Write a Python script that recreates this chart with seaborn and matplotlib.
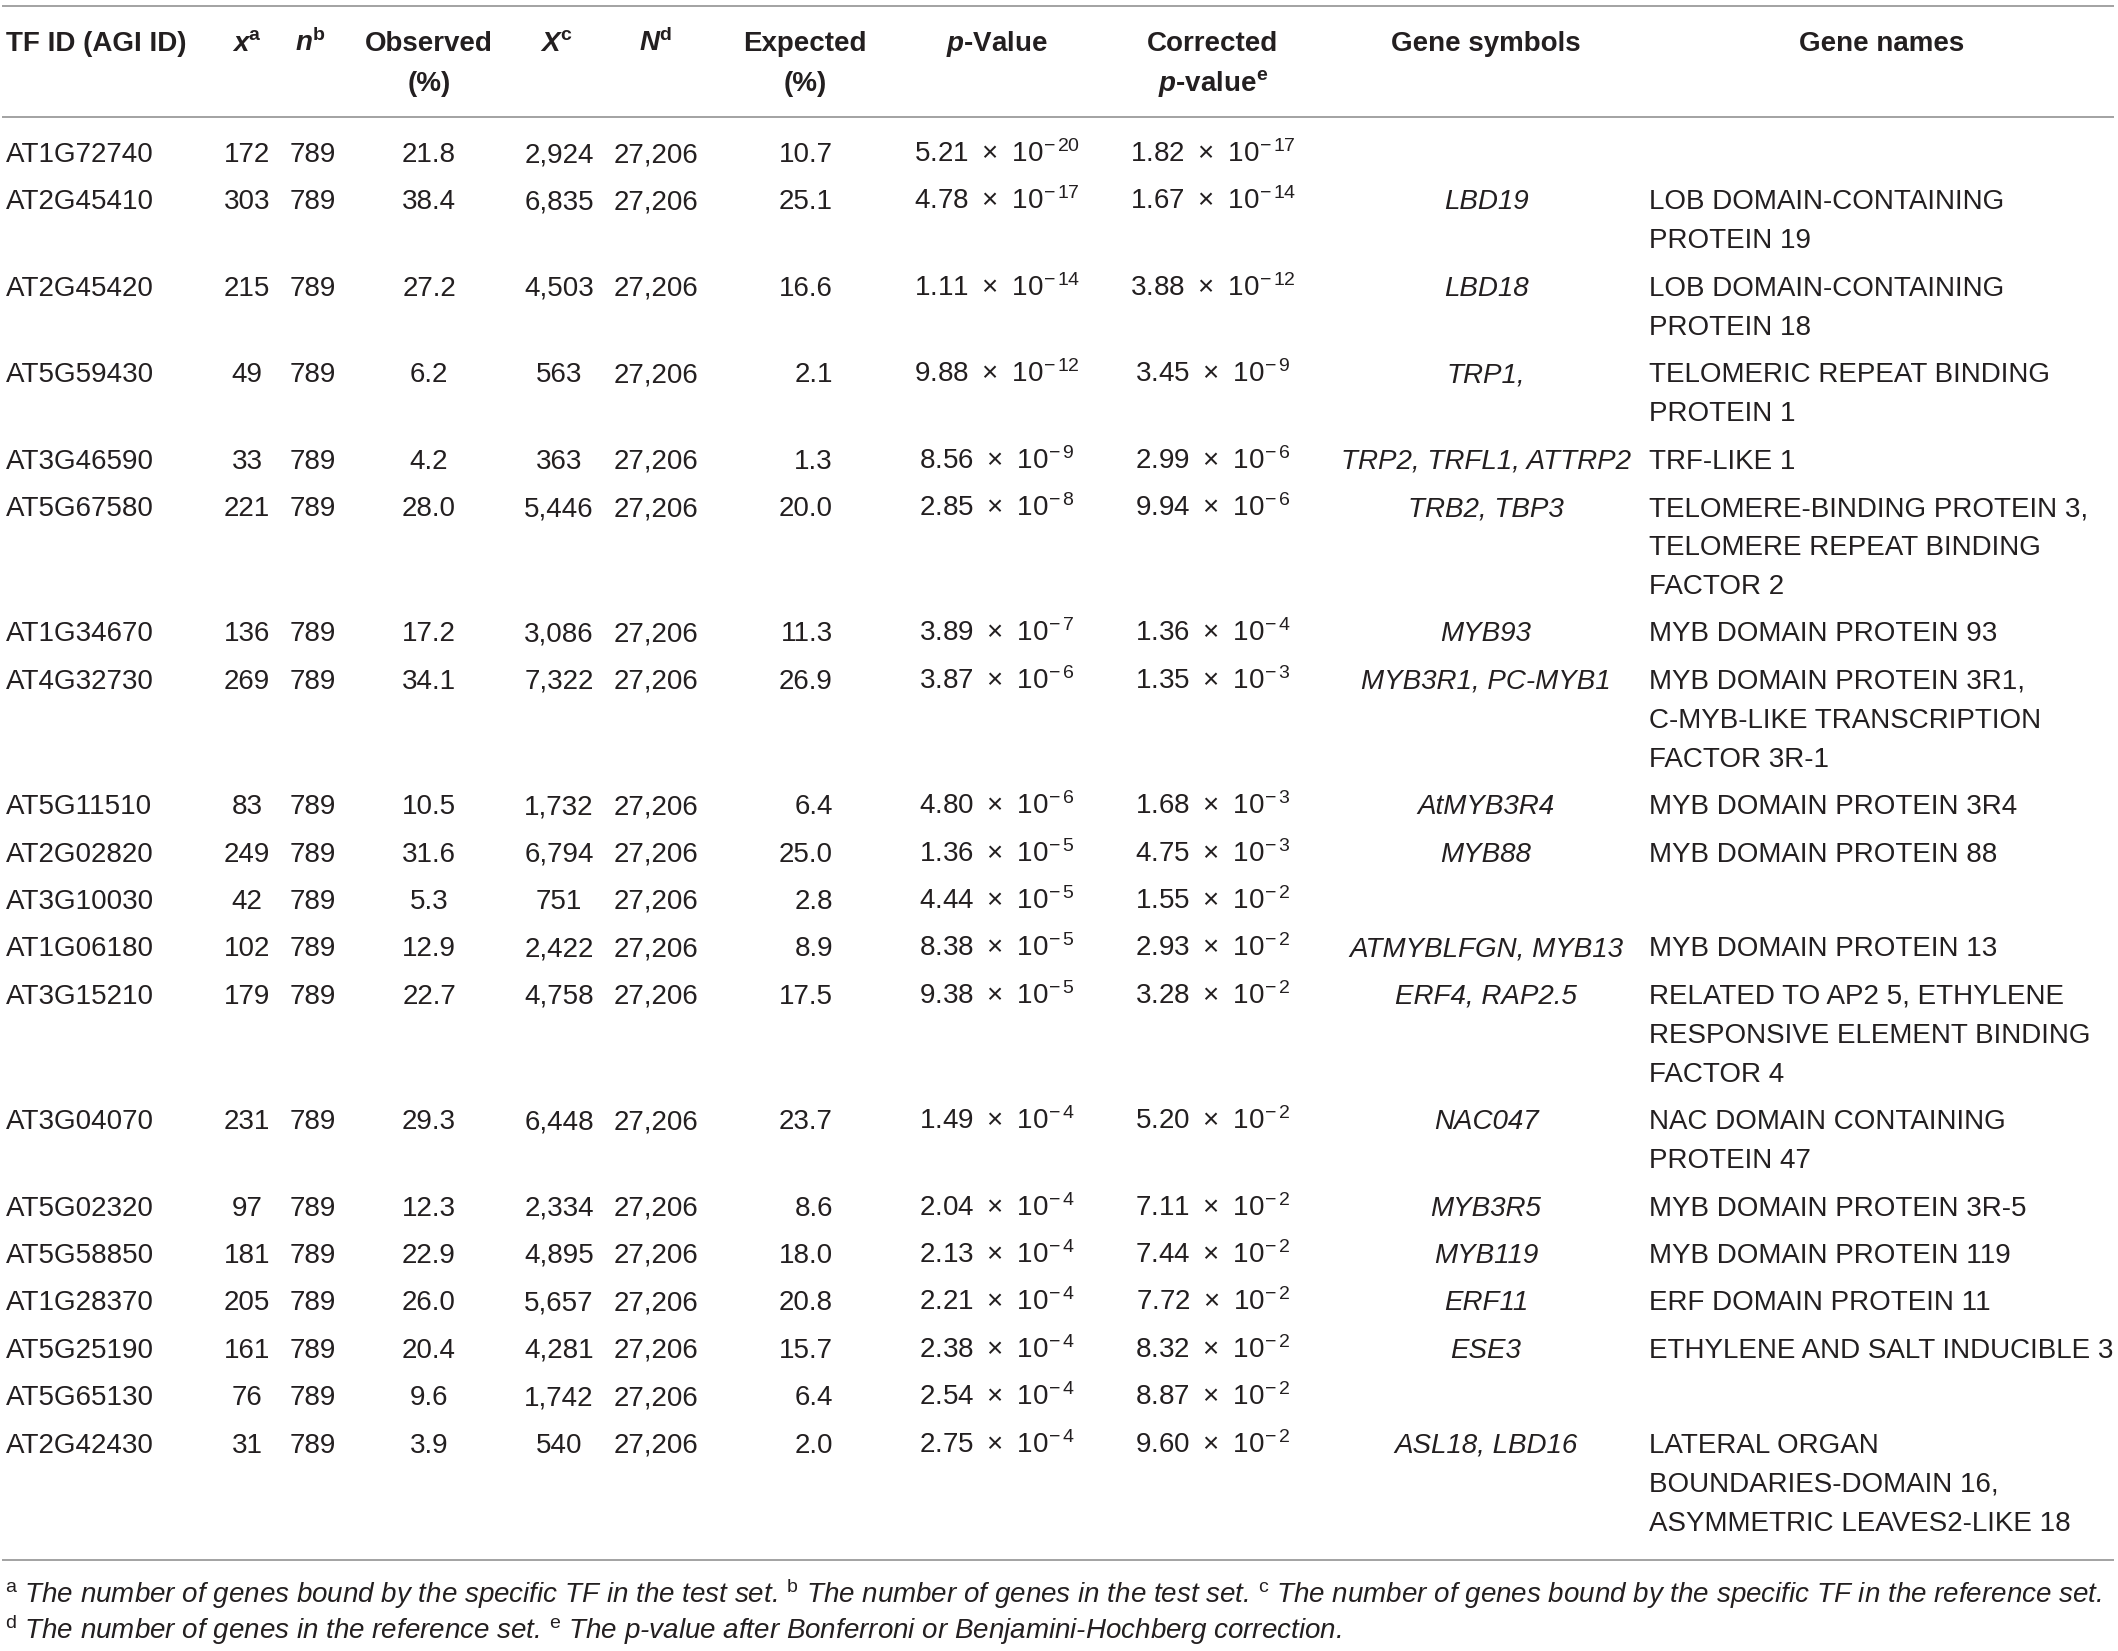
import seaborn as sns
import matplotlib.pyplot as plt

sns.set_theme(style="white")
plt.rcParams['font.family'] = ['Liberation Sans', 'DejaVu Sans']
plt.rcParams['mathtext.fontset'] = 'custom'
plt.rcParams['mathtext.rm'] = 'Liberation Sans'
plt.rcParams['mathtext.it'] = 'Liberation Sans:italic'
plt.rcParams['mathtext.bf'] = 'Liberation Sans:bold'
plt.rcParams['mathtext.bfit'] = 'Liberation Sans:italic:bold'

# table data
tf_ids = ["AT1G72740", "AT2G45410", "AT2G45420", "AT5G59430", "AT3G46590",
          "AT5G67580", "AT1G34670", "AT4G32730", "AT5G11510", "AT2G02820",
          "AT3G10030", "AT1G06180", "AT3G15210", "AT3G04070", "AT5G02320",
          "AT5G58850", "AT1G28370", "AT5G25190", "AT5G65130", "AT2G42430"]
x_bound = [172, 303, 215, 49, 33, 221, 136, 269, 83, 249, 42, 102, 179, 231,
           97, 181, 205, 161, 76, 31]
n_test = [789] * len(tf_ids)
observed = [21.8, 38.4, 27.2, 6.2, 4.2, 28.0, 17.2, 34.1, 10.5, 31.6, 5.3,
            12.9, 22.7, 29.3, 12.3, 22.9, 26.0, 20.4, 9.6, 3.9]
X_ref = [2924, 6835, 4503, 563, 363, 5446, 3086, 7322, 1732, 6794, 751, 2422,
         4758, 6448, 2334, 4895, 5657, 4281, 1742, 540]
N_ref = [27206] * len(tf_ids)
expected = [10.7, 25.1, 16.6, 2.1, 1.3, 20.0, 11.3, 26.9, 6.4, 25.0, 2.8, 8.9,
            17.5, 23.7, 8.6, 18.0, 20.8, 15.7, 6.4, 2.0]
p_mant = ["5.21", "4.78", "1.11", "9.88", "8.56", "2.85", "3.89", "3.87",
          "4.80", "1.36", "4.44", "8.38", "9.38", "1.49", "2.04", "2.13",
          "2.21", "2.38", "2.54", "2.75"]
p_exp = [20, 17, 14, 12, 9, 8, 7, 6, 6, 5, 5, 5, 5, 4, 4, 4, 4, 4, 4, 4]
cp_mant = ["1.82", "1.67", "3.88", "3.45", "2.99", "9.94", "1.36", "1.35",
           "1.68", "4.75", "1.55", "2.93", "3.28", "5.20", "7.11", "7.44",
           "7.72", "8.32", "8.87", "9.60"]
cp_exp = [17, 14, 12, 9, 6, 6, 4, 3, 3, 3, 2, 2, 2, 2, 2, 2, 2, 2, 2, 2]
gene_symbols = ["", "LBD19", "LBD18", "TRP1,", "TRP2, TRFL1, ATTRP2",
                "TRB2, TBP3", "MYB93", "MYB3R1, PC-MYB1", "AtMYB3R4", "MYB88",
                "", "ATMYBLFGN, MYB13", "ERF4, RAP2.5", "NAC047", "MYB3R5",
                "MYB119", "ERF11", "ESE3", "", "ASL18, LBD16"]
gene_names = [
    [],
    ["LOB DOMAIN-CONTAINING", "PROTEIN 19"],
    ["LOB DOMAIN-CONTAINING", "PROTEIN 18"],
    ["TELOMERIC REPEAT BINDING", "PROTEIN 1"],
    ["TRF-LIKE 1"],
    ["TELOMERE-BINDING PROTEIN 3,", "TELOMERE REPEAT BINDING", "FACTOR 2"],
    ["MYB DOMAIN PROTEIN 93"],
    ["MYB DOMAIN PROTEIN 3R1,", "C-MYB-LIKE TRANSCRIPTION", "FACTOR 3R-1"],
    ["MYB DOMAIN PROTEIN 3R4"],
    ["MYB DOMAIN PROTEIN 88"],
    [],
    ["MYB DOMAIN PROTEIN 13"],
    ["RELATED TO AP2 5, ETHYLENE", "RESPONSIVE ELEMENT BINDING", "FACTOR 4"],
    ["NAC DOMAIN CONTAINING", "PROTEIN 47"],
    ["MYB DOMAIN PROTEIN 3R-5"],
    ["MYB DOMAIN PROTEIN 119"],
    ["ERF DOMAIN PROTEIN 11"],
    ["ETHYLENE AND SALT INDUCIBLE 3"],
    [],
    ["LATERAL ORGAN", "BOUNDARIES-DOMAIN 16,", "ASYMMETRIC LEAVES2-LIKE 18"],
]
footnotes = [
    "$^{\\mathrm{a}}$ The number of genes bound by the specific TF in the test set. "
    "$^{\\mathrm{b}}$ The number of genes in the test set. "
    "$^{\\mathrm{c}}$ The number of genes bound by the specific TF in the reference set.",
    "$^{\\mathrm{d}}$ The number of genes in the reference set. "
    "$^{\\mathrm{e}}$ The p-value after Bonferroni or Benjamini-Hochberg correction.",
]

TXT = "#231f20"
RULE = "#9b9b9b"
FS = 20

fig = plt.figure(figsize=(21.18, 16.51), dpi=100)
ax = fig.add_axes([0, 0, 1, 1])
ax.set_xlim(0, 2118)
ax.set_ylim(1651, 0)
ax.axis("off")

# column anchors in px
COL_TF, COL_X, COL_N, COL_OBS = 6, 247, 313, 429
COL_XR, COL_NR, COL_EXP = 559, 656, 833
COL_P, COL_CP, COL_SYM, COL_NAMES = 997, 1213, 1486, 1649


def put(x, y, s, ha="center", **kw):
    ax.text(x, y, s, ha=ha, va="baseline", fontsize=FS, color=TXT, **kw)


def sci(m, e):
    return f"{m}\u2002×\u200210$^{{-\\,{e}}}$"


# header
h1, h2 = 51, 91
put(COL_TF, h1, "TF ID (AGI ID)", ha="left", fontweight="bold")
put(COL_X, h1, r"$\mathbfit{x}^{\mathbf{a}}$")
put(310, h1, r"$\mathbfit{n}^{\mathbf{b}}$")
put(COL_OBS, h1, "Observed", fontweight="bold")
put(COL_OBS, h2, "(%)", fontweight="bold")
put(556, h1, r"$\mathbfit{X}^{\mathbf{c}}$")
put(655, h1, r"$\mathbfit{N}^{\mathbf{d}}$")
put(805, h1, "Expected", fontweight="bold")
put(805, h2, "(%)", fontweight="bold")
put(COL_P, h1, r"$\mathbfit{p}$-Value", fontweight="bold")
put(COL_CP, h1, "Corrected", fontweight="bold")
put(COL_CP, h2, r"$\mathbfit{p}$-value$^{\mathbf{e}}$", fontweight="bold")
put(COL_SYM, h1, "Gene symbols", fontweight="bold")
put(1882, h1, "Gene names", fontweight="bold")

# rules
for yy in (6, 117, 1560):
    ax.plot([2, 2114], [yy, yy], color=RULE, lw=1.3, solid_capstyle="butt")

# body rows
LINE, GAP = 39, 8.4
y = 162
for i in range(len(tf_ids)):
    put(COL_TF, y, tf_ids[i], ha="left")
    put(COL_X, y, str(x_bound[i]))
    put(COL_N, y, str(n_test[i]))
    put(COL_OBS, y, f"{observed[i]:.1f}")
    put(COL_XR, y, f"{X_ref[i]:,}")
    put(COL_NR, y, f"{N_ref[i]:,}")
    put(COL_EXP, y, f"{expected[i]:.1f}", ha="right")
    put(COL_P, y, sci(p_mant[i], p_exp[i]))
    put(COL_CP, y, sci(cp_mant[i], cp_exp[i]))
    if gene_symbols[i]:
        put(COL_SYM, y, gene_symbols[i], fontstyle="italic")
    for k, line in enumerate(gene_names[i]):
        put(COL_NAMES, y + k * LINE, line, ha="left")
    y += max(1, len(gene_names[i])) * LINE + GAP

# footnotes
for k, note in enumerate(footnotes):
    ax.text(5, 1603 + k * 36, note, ha="left", va="baseline", fontsize=FS,
            color=TXT, fontstyle="italic")

fig.savefig("out.png", dpi=100)
